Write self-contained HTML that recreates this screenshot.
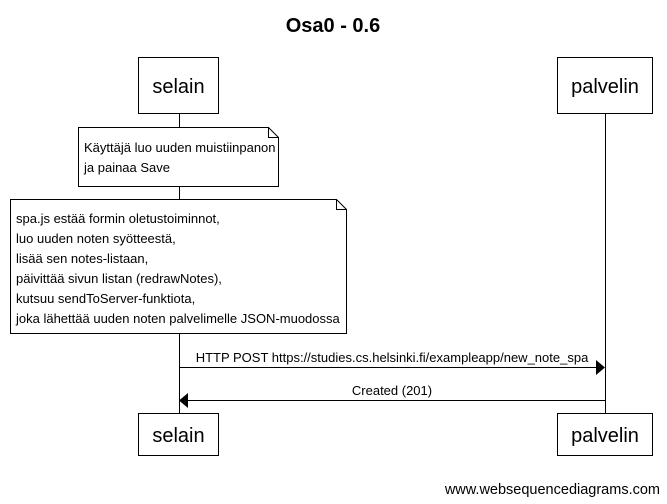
<!DOCTYPE html>
<html><head><meta charset="utf-8"><style>
html,body{margin:0;padding:0;background:#fff;}
svg{display:block;font-family:"Liberation Sans",Arial,sans-serif;}
</style></head><body>
<svg width="667" height="504" viewBox="0 0 667 504" xmlns="http://www.w3.org/2000/svg">
<rect width="667" height="504" fill="#fff"/>
<text x="333" y="32" font-size="20" font-weight="bold" text-anchor="middle">Osa0 - 0.6</text>
<g stroke="#000" stroke-width="1" fill="#fff">
<line x1="179.5" y1="113" x2="179.5" y2="413"/>
<line x1="605.5" y1="113" x2="605.5" y2="413"/>
<rect x="138.5" y="57.5" width="80" height="56"/>
<rect x="557.5" y="57.5" width="95" height="56"/>
<rect x="138.5" y="413.5" width="80" height="42"/>
<rect x="557.5" y="413.5" width="95" height="42"/>
<path d="M78.5 127.5 H268.5 L278.5 137.5 V186.5 H78.5 Z"/>
<path d="M268.5 127.5 V137.5 H278.5" fill="none"/>
<path d="M10.5 199.5 H336.5 L346.5 209.5 V333.5 H10.5 Z"/>
<path d="M336.5 199.5 V209.5 H346.5" fill="none"/>
<line x1="179" y1="367.5" x2="597" y2="367.5"/>
<line x1="187" y1="400.5" x2="605" y2="400.5"/>
</g>
<polygon points="596,360 605,367.5 596,375" fill="#000"/>
<polygon points="188,393 179,400.5 188,408" fill="#000"/>
<g font-size="20" text-anchor="middle">
<text x="178.5" y="93">selain</text>
<text x="605" y="93">palvelin</text>
<text x="178.5" y="442">selain</text>
<text x="605" y="442">palvelin</text>
</g>
<g font-size="13">
<text x="84" y="152">Käyttäjä luo uuden muistiinpanon</text>
<text x="84" y="172">ja painaa Save</text>
<text x="16" y="223">spa.js estää formin oletustoiminnot,</text>
<text x="16" y="243">luo uuden noten syötteestä,</text>
<text x="16" y="263">lisää sen notes-listaan,</text>
<text x="16" y="283">päivittää sivun listan (redrawNotes),</text>
<text x="16" y="303">kutsuu sendToServer-funktiota,</text>
<text x="16" y="323">joka lähettää uuden noten palvelimelle JSON-muodossa</text>
<text x="392" y="362" text-anchor="middle">HTTP POST https://studies.cs.helsinki.fi/exampleapp/new_note_spa</text>
<text x="392" y="395" text-anchor="middle">Created (201)</text>
</g>
<text x="660" y="494" font-size="14.5" text-anchor="end">www.websequencediagrams.com</text>
</svg>
</body></html>
